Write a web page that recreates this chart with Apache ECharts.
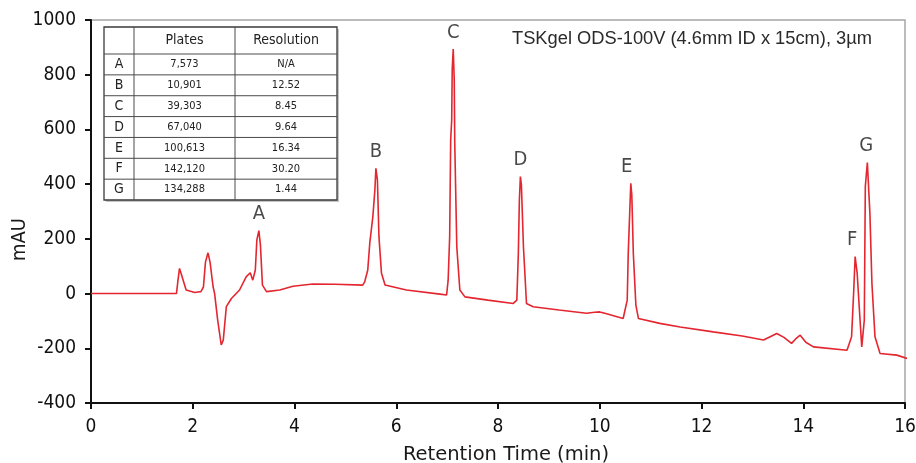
<!DOCTYPE html>
<html><head><meta charset="utf-8">
<script src="https://cdn.jsdelivr.net/npm/echarts@6/dist/echarts.min.js"></script>
<style>html,body{margin:0;padding:0;background:#fff}#c{width:916px;height:463px}</style>
</head><body><div id="c"></div>
<script>
// ---- data ----
const retentionTimes = [0, 1.68, 1.71, 1.74, 1.78, 1.87, 2.04, 2.10, 2.16, 2.21, 2.25, 2.30, 2.34, 2.40, 2.43, 2.49, 2.56, 2.60, 2.66, 2.76, 2.92, 3.05, 3.13, 3.18, 3.23, 3.26, 3.30, 3.33, 3.37, 3.45, 3.71, 3.97, 4.36, 4.80, 5.34, 5.38, 5.44, 5.48, 5.54, 5.58, 5.60, 5.63, 5.66, 5.71, 5.78, 6.20, 6.86, 6.99, 7.02, 7.05, 7.07, 7.09, 7.10, 7.12, 7.14, 7.15, 7.19, 7.25, 7.35, 7.80, 8.30, 8.37, 8.40, 8.42, 8.44, 8.46, 8.50, 8.56, 8.69, 9.20, 9.74, 9.90, 10.00, 10.10, 10.46, 10.54, 10.56, 10.61, 10.63, 10.66, 10.71, 10.76, 11.18, 11.58, 12.23, 12.80, 13.22, 13.35, 13.48, 13.62, 13.77, 13.85, 13.94, 14.05, 14.20, 14.86, 14.95, 14.99, 15.02, 15.06, 15.10, 15.15, 15.20, 15.22, 15.26, 15.31, 15.35, 15.41, 15.51, 15.84, 16.04, 16.16];
const absorbance = [0, 0, 49, 92, 68, 13, 4, 6, 7, 24, 115, 149, 115, 25, 0, -97, -188, -170, -48, -18, 13, 61, 76, 49, 86, 196, 230, 178, 31, 7, 13, 27, 35, 34, 31, 43, 86, 185, 281, 379, 458, 415, 208, 74, 31, 13, -2, -5, 49, 208, 562, 635, 818, 894, 781, 550, 171, 13, -12, -24, -36, -24, 147, 342, 428, 397, 171, -36, -48, -60, -72, -68, -67, -72, -91, -24, 147, 403, 361, 147, -42, -91, -109, -122, -140, -155, -170, -158, -146, -160, -182, -166, -152, -178, -195, -207, -158, 1, 135, 74, -48, -195, -97, 391, 479, 294, 37, -158, -219, -225, -237, -232];
const peakNames = ['A', 'B', 'C', 'D', 'E', 'F', 'G'];
const peakTimes = [3.30, 5.60, 7.12, 8.44, 10.53, 14.96, 15.24];
const peakHeights = [230, 458, 894, 428, 403, 135, 479];
const plates = ['7,573', '10,901', '39,303', '67,040', '100,613', '142,120', '134,288'];
const resolution = ['N/A', '12.52', '8.45', '9.64', '16.34', '30.20', '1.44'];
const tableHeaders = ['', 'Plates', 'Resolution'];
const columnTitle = 'TSKgel ODS-100V (4.6mm ID x 15cm), 3µm';
const xAxisTitle = 'Retention Time (min)';
const yAxisTitle = 'mAU';

// ---- build ----
const NARROW = "'DejaVu Sans Condensed', 'Liberation Sans Narrow', sans-serif";
const trace = retentionTimes.map((t, i) => [t, absorbance[i]]);
const peakData = peakNames.map((n, i) => ({ name: n, value: [peakTimes[i], peakHeights[i]] }));

// table geometry (styling)
const tb = { cols: [104, 134, 235, 337], top: 27, head: 54, rowH: 20.86 };
const tbBottom = tb.head + tb.rowH * peakNames.length;
const tableEls = [];
tableEls.push({ type: 'rect', shape: { x: tb.cols[0] + 2, y: tb.top + 2, width: tb.cols[3] - tb.cols[0], height: tbBottom - tb.top }, style: { fill: '#c4c4c4' } });
tableEls.push({ type: 'rect', shape: { x: tb.cols[0], y: tb.top, width: tb.cols[3] - tb.cols[0], height: tbBottom - tb.top }, style: { fill: '#fff', stroke: '#3a3a3a', lineWidth: 1.3 } });
[tb.cols[1], tb.cols[2]].forEach(x => tableEls.push({ type: 'line', shape: { x1: x, y1: tb.top, x2: x, y2: tbBottom }, style: { stroke: '#4a4a4a', lineWidth: 1 } }));
for (let i = 0; i < peakNames.length; i++) {
  const y = tb.head + i * tb.rowH;
  tableEls.push({ type: 'line', shape: { x1: tb.cols[0], y1: y, x2: tb.cols[3], y2: y }, style: { stroke: '#4a4a4a', lineWidth: 1 } });
}
const colCenter = c => (tb.cols[c] + tb.cols[c + 1]) / 2;
tableHeaders.forEach((h, c) => {
  if (!h) return;
  tableEls.push({ type: 'text', x: colCenter(c), y: (tb.top + tb.head) / 2, style: { text: h, fill: '#222', font: '14px ' + NARROW, align: 'center', verticalAlign: 'middle' } });
});
peakNames.forEach((n, i) => {
  const cy = tb.head + (i + 0.5) * tb.rowH;
  tableEls.push({ type: 'text', x: colCenter(0), y: cy, style: { text: n, fill: '#222', font: '14px ' + NARROW, align: 'center', verticalAlign: 'middle' } });
  tableEls.push({ type: 'text', x: colCenter(1), y: cy, style: { text: plates[i], fill: '#222', font: '11px ' + NARROW, align: 'center', verticalAlign: 'middle' } });
  tableEls.push({ type: 'text', x: colCenter(2), y: cy, style: { text: resolution[i], fill: '#222', font: '11px ' + NARROW, align: 'center', verticalAlign: 'middle' } });
});

const chart = echarts.init(document.getElementById('c'));
chart.setOption({
  animation: false,
  backgroundColor: '#fff',
  title: {
    text: columnTitle, right: 44, top: 30, padding: 0,
    textStyle: { fontFamily: "'Liberation Sans', Arial, sans-serif", fontSize: 18.3, fontWeight: 'normal', color: '#2a2a2a' }
  },
  grid: { left: 91, right: 11, top: 20, bottom: 60, show: true, borderColor: '#a6a6a6', borderWidth: 1.5, containLabel: false, outerBoundsMode: 'none' },
  xAxis: {
    type: 'value', min: 0, max: 16, interval: 2,
    name: xAxisTitle, nameLocation: 'middle', nameGap: 42, nameMoveOverlap: false,
    nameTextStyle: { fontFamily: "'DejaVu Sans', sans-serif", fontSize: 19.5, color: '#1a1a1a', padding: [0, 0, 0, 16] },
    axisLine: { show: true, onZero: false, lineStyle: { color: '#111', width: 2 } },
    axisTick: { show: true, inside: false, length: 6, lineStyle: { color: '#111', width: 2 } },
    axisLabel: { margin: 15, fontFamily: NARROW, fontSize: 19, color: '#111', formatter: v => String(v) },
    splitLine: { show: false }
  },
  yAxis: {
    type: 'value', min: -400, max: 1000, interval: 200,
    name: yAxisTitle, nameLocation: 'middle', nameGap: 61, nameRotate: 90, nameMoveOverlap: false,
    nameTextStyle: { fontFamily: NARROW, fontSize: 20, color: '#1a1a1a', padding: [0, 56, 0, 0] },
    axisLine: { show: true, onZero: false, lineStyle: { color: '#111', width: 2 } },
    axisTick: { show: true, inside: false, length: 6, lineStyle: { color: '#111', width: 2 } },
    axisLabel: { margin: 15, fontFamily: NARROW, fontSize: 19, color: '#111', formatter: v => String(v) },
    splitLine: { show: false }
  },
  series: [
    {
      type: 'line', data: trace, showSymbol: false, symbol: 'none', smooth: false, clip: false,
      lineStyle: { color: '#e3262f', width: 1.6 }, z: 3
    },
    {
      type: 'scatter', data: peakData, symbol: 'circle', symbolSize: 1, clip: false,
      itemStyle: { color: 'rgba(0,0,0,0)' },
      label: { show: true, position: 'top', distance: 6, formatter: p => p.name, fontFamily: NARROW, fontSize: 20, color: '#1a1a1a' },
      z: 4
    }
  ],
  graphic: [{ type: 'group', z: 10, children: tableEls }]
});
</script></body></html>
